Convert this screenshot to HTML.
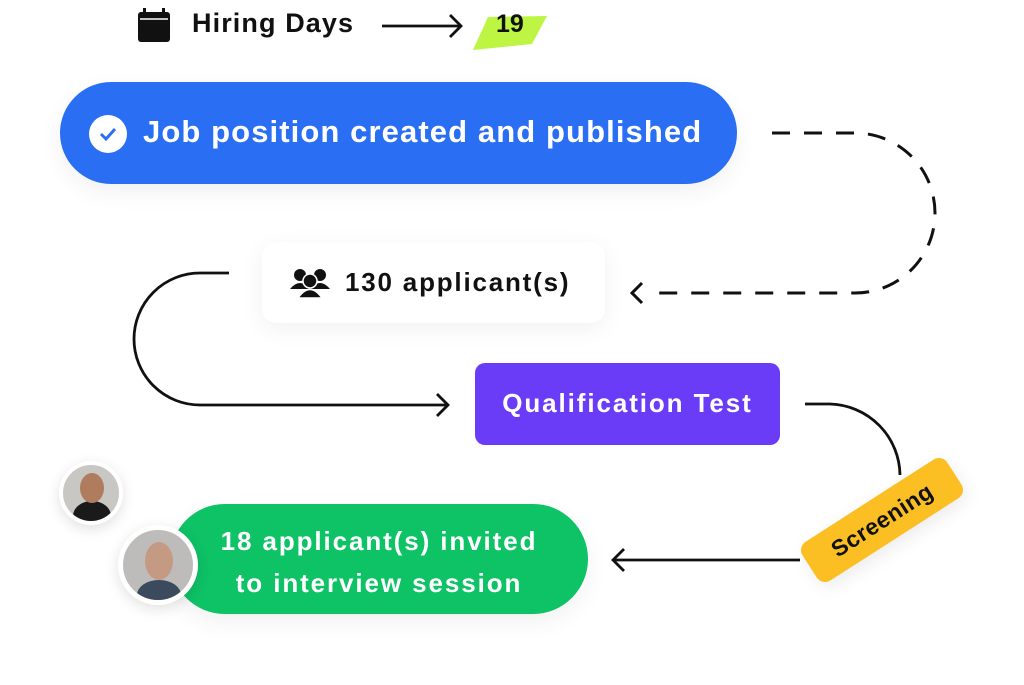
<!DOCTYPE html>
<html><head><meta charset="utf-8"><style>
body{margin:0;width:1024px;height:685px;background:#fff;position:relative;overflow:hidden;font-family:"Liberation Sans",sans-serif;}
.a{position:absolute;box-sizing:border-box;}
</style></head><body>
<svg class="a" style="left:0;top:0" width="1024" height="685">
<rect x="138" y="12" width="32" height="30" rx="3" fill="#111"/>
<rect x="143" y="8" width="3" height="8" fill="#111"/><rect x="162" y="8" width="3" height="8" fill="#111"/>
<line x1="140" y1="19" x2="168" y2="19" stroke="#fff" stroke-width="1.5"/>
<line x1="382" y1="26" x2="460" y2="26" stroke="#111" stroke-width="2.8"/>
<polyline points="450,15 461,26 450,37" fill="none" stroke="#111" stroke-width="2.8"/>
<polygon points="488,17 547,16 532,44 473,50" fill="#bdf542"/>
<path d="M772,133 L855,133 A80,80 0 0 1 855,293 L658,293" fill="none" stroke="#111" stroke-width="3" stroke-dasharray="18,14"/>
<polyline points="642,283 632,293 642,303" fill="none" stroke="#111" stroke-width="3"/>
<path d="M229,273 L200,273 A66,66 0 0 0 200,405 L447,405" fill="none" stroke="#111" stroke-width="2.8"/>
<polyline points="437,394 448,405 437,416" fill="none" stroke="#111" stroke-width="2.8"/>
<path d="M805,404 L830,404 A72,72 0 0 1 900,475" fill="none" stroke="#111" stroke-width="2.8"/>
<line x1="800" y1="560" x2="614" y2="560" stroke="#111" stroke-width="2.8"/>
<polyline points="624,549 613,560 624,571" fill="none" stroke="#111" stroke-width="2.8"/>
</svg>
<div class="a" style="left:192px;top:8px;font-size:27px;font-weight:bold;color:#111;letter-spacing:1.1px">Hiring Days</div>
<div class="a" style="left:496px;top:10px;font-size:25px;font-weight:bold;color:#111">19</div>

<div class="a" style="left:60px;top:82px;width:677px;height:102px;border-radius:51px;background:#2a6ff3;box-shadow:0 8px 24px rgba(0,0,0,0.06)"></div>
<div class="a" style="left:89px;top:115px;width:38px;height:38px;border-radius:50%;background:#fff"></div>
<svg class="a" style="left:89px;top:115px" width="38" height="38"><polyline points="12,19 17,24 26,14" fill="none" stroke="#2a6ff3" stroke-width="3"/></svg>
<div class="a" style="left:143px;top:114px;font-size:31px;font-weight:bold;color:#fff;letter-spacing:1.1px">Job position created and published</div>

<div class="a" style="left:262px;top:242px;width:343px;height:81px;border-radius:14px;background:#fff;box-shadow:0 6px 24px rgba(0,0,0,0.06)"></div>
<svg class="a" style="left:289px;top:267px" width="42" height="32"><circle cx="11" cy="8" r="6" fill="#111"/><circle cx="31" cy="8" r="6" fill="#111"/><path d="M1,22 Q11,10 21,22Z M21,22 Q31,10 41,22Z" fill="#111"/><circle cx="21" cy="14" r="7" fill="#111" stroke="#fff" stroke-width="1.5"/><path d="M9,31 Q21,14 33,31Z" fill="#111" stroke="#fff" stroke-width="1.5"/></svg>
<div class="a" style="left:345px;top:267px;font-size:26px;font-weight:bold;color:#111;letter-spacing:1.8px">130 applicant(s)</div>

<div class="a" style="left:475px;top:363px;width:305px;height:82px;border-radius:10px;background:#6a3cf8"></div>
<div class="a" style="left:475px;top:388px;width:305px;text-align:center;font-size:26px;font-weight:bold;color:#fff;letter-spacing:1.9px">Qualification Test</div>

<div class="a" style="left:796px;top:497px;width:172px;height:46px;border-radius:10px;background:#fbbf24;transform:rotate(-32.7deg);transform-origin:86px 23px;text-align:center;line-height:46px;font-size:23px;font-weight:bold;color:#111;letter-spacing:0.5px;box-shadow:0 6px 18px rgba(0,0,0,0.08)">Screening</div>

<div class="a" style="left:170px;top:504px;width:418px;height:110px;border-radius:55px;background:#0ec266;box-shadow:0 8px 24px rgba(0,0,0,0.06)"></div>
<div class="a" style="left:170px;top:520px;width:418px;text-align:center;font-size:26px;font-weight:bold;color:#fff;line-height:42px;letter-spacing:1.9px">18 applicant(s) invited<br>to interview session</div>

<div class="a" style="left:59px;top:461px;width:64px;height:64px;border-radius:50%;background:#c9c7c4;border:4px solid #fff;box-shadow:0 4px 14px rgba(0,0,0,0.12);overflow:hidden"><div style="position:absolute;left:10px;top:36px;width:38px;height:30px;border-radius:50% 50% 0 0;background:#1a1a1a"></div><div style="position:absolute;left:17px;top:8px;width:24px;height:30px;border-radius:50%;background:#b07c5e"></div></div>
<div class="a" style="left:118px;top:525px;width:80px;height:80px;border-radius:50%;background:#bdbcba;border:5px solid #fff;box-shadow:0 4px 14px rgba(0,0,0,0.12);overflow:hidden"><div style="position:absolute;left:14px;top:50px;width:44px;height:30px;border-radius:50% 50% 0 0;background:#3b4a5c"></div><div style="position:absolute;left:22px;top:12px;width:28px;height:38px;border-radius:50%;background:#c49a82"></div></div>
</body></html>
